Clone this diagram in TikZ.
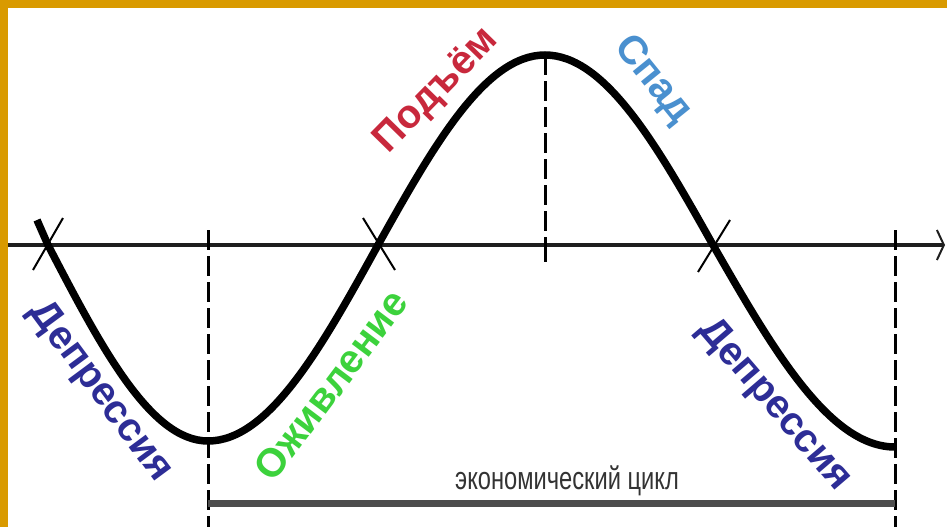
\documentclass[tikz,border=0pt]{standalone}
\usepackage{fontspec}
\setmainfont{Liberation Sans}
\usetikzlibrary{arrows.meta}
\definecolor{framegold}{HTML}{D99A00}
\definecolor{deprblue}{HTML}{2D2D96}
\definecolor{revivgreen}{HTML}{3CD23C}
\definecolor{risered}{HTML}{C8283C}
\definecolor{fallblue}{HTML}{4A90CF}
\definecolor{axisgray}{HTML}{1E1E1E}
\definecolor{cyclegray}{HTML}{4D4D4D}
\definecolor{labelgray}{HTML}{333333}

\tikzset{
  phase/.style={font=\fontsize{40}{44}\selectfont\bfseries, inner sep=0pt},
  guide/.style={line width=3pt, dash pattern=on 20pt off 6pt},
  crossmark/.style={line width=2pt},
}

\begin{document}
\begin{tikzpicture}[x=1pt,y=-1pt]
  % Rahmen
  \fill[framegold] (0,0) rectangle (947,527);
  \fill[white] (8,8) rectangle (947,527);
  \useasboundingbox (0,0) rectangle (947,527);
  % Punkte der Welle
  \coordinate (start) at (37,220);
  \coordinate (zero1) at (48,245);
  \coordinate (low1)  at (208,441);
  \coordinate (zero2) at (378,245);
  \coordinate (peak)  at (545,55);
  \coordinate (zero3) at (713,245);
  \coordinate (low2)  at (895,447);
  % Zeitachse
  \coordinate (axL) at (8,245);
  \coordinate (axR) at (945,245);
  \draw[line width=4.5pt, axisgray, -{Straight Barb[length=7pt,width=30pt,line width=2pt]}] (axL) -- (axR);
  % Hilfslinien
  \draw[guide] (208,230) -- (208,527);
  \draw[guide] (895,230) -- (895,527);
  \draw[guide] (peak) -- (545,245);
  \draw[line width=3pt] (545,245) -- (545,262);
  % Welle
  \draw[line width=7.5pt] (start) -- (zero1) sin (low1) cos (zero2) sin (peak) cos (zero3) sin (low2);
  % Kreuze an den Nulldurchgaengen
  \draw[crossmark] (63,218) -- (33,270);
  \draw[crossmark] (363,218) -- (395,270);
  \draw[crossmark] (730,220) -- (698,272);
  % Zyklus
  \coordinate (cycL) at (208,503);
  \coordinate (cycR) at (895,503);
  \draw[line width=7pt, cyclegray] (cycL) -- (cycR);
  \node[font=\fontsize{32}{36}\selectfont, xscale=0.74, text=labelgray] (cycle) at (567,481) {экономический цикл};
  % Phasen
  \node[phase, deprblue, rotate=-53.5] (dep1) at (100,392) {Депрессия};
  \node[phase, revivgreen, rotate=53] (reviv) at (331,385) {Оживление};
  \node[phase, risered, rotate=45.6] (rise) at (437,91) {Подъём};
  \node[phase, fallblue, rotate=-51] (fall) at (653,80) {Спад};
  \node[phase, deprblue, rotate=-49.4] (dep2) at (774,405) {Депрессия};
\end{tikzpicture}
\end{document}
